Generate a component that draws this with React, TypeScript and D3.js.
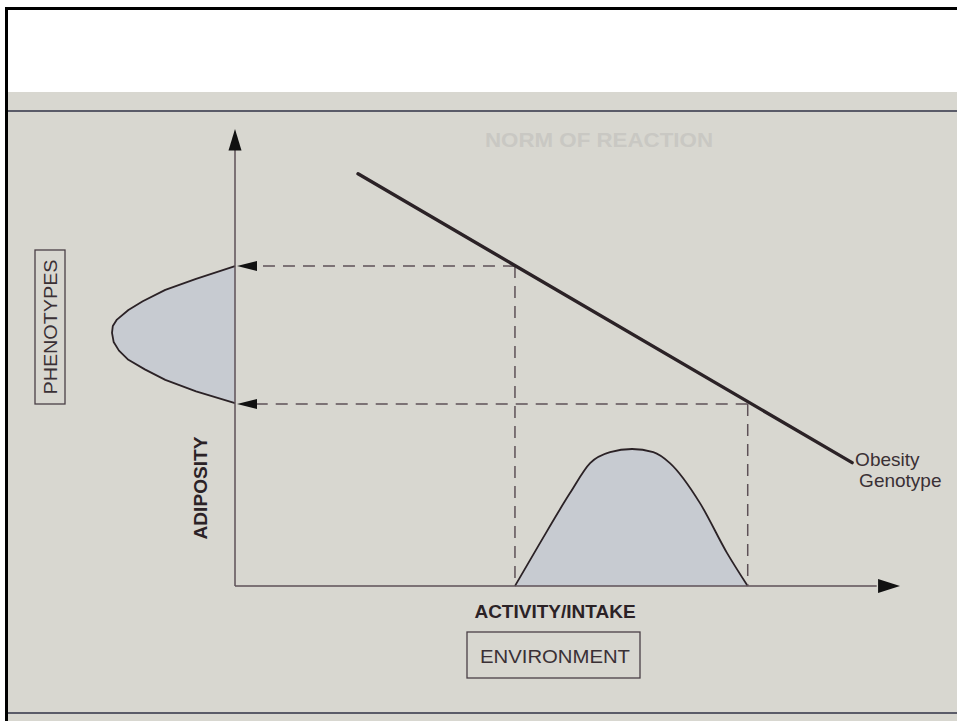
import React from "react";
import * as d3 from "d3";

// Environment (x) and adiposity (y) in arbitrary units 0-100
const genotypeLine = [
  { env: 18.5, adip: 90.2 },
  { env: 92.8, adip: 27.0 },
];
const envLevels = [42.1, 77.1]; // environment range (dashed verticals)
const phenoLevels = [70.0, 39.8]; // phenotype range (dashed horizontals)

// Environment distribution (bottom curve)
const envDist = [
  { env: 42.1, dens: 0 },
  { env: 45.9, dens: 9.5 },
  { env: 50.4, dens: 20.4 },
  { env: 53.4, dens: 26.9 },
  { env: 56.4, dens: 29.3 },
  { env: 59.7, dens: 30.0 },
  { env: 62.9, dens: 29.3 },
  { env: 65.4, dens: 26.9 },
  { env: 69.9, dens: 18.2 },
  { env: 74.0, dens: 7.2 },
  { env: 77.1, dens: 0 },
];

// Phenotype distribution (left curve)
const phenoDist = [
  { adip: 70.0, dens: 0 },
  { adip: 67.2, dens: 9.5 },
  { adip: 64.8, dens: 17.0 },
  { adip: 62.3, dens: 22.5 },
  { adip: 60.4, dens: 26.0 },
  { adip: 58.3, dens: 28.8 },
  { adip: 56.9, dens: 29.8 },
  { adip: 55.4, dens: 30.0 },
  { adip: 53.4, dens: 29.6 },
  { adip: 51.5, dens: 28.3 },
  { adip: 49.5, dens: 26.0 },
  { adip: 47.4, dens: 22.0 },
  { adip: 45.1, dens: 17.0 },
  { adip: 42.6, dens: 9.5 },
  { adip: 40.0, dens: 0 },
];

const title = "NORM OF REACTION";
const xTitle = "ACTIVITY/INTAKE";
const xBox = "ENVIRONMENT";
const yTitle = "ADIPOSITY";
const yBox = "PHENOTYPES";
const lineLabel = ["Obesity", "Genotype"];

export default function App() {
  const W = 957,
    H = 721;
  const x0 = 235,
    y0 = 586;
  const x = d3.scaleLinear().domain([0, 100]).range([x0, 900]);
  const y = d3.scaleLinear().domain([0, 100]).range([y0, 129]);
  const densY = d3.scaleLinear().domain([0, 30]).range([y0, y0 - 137]);
  const densX = d3.scaleLinear().domain([0, 30]).range([x0, 112]);

  const font = "'Liberation Sans', Arial, Helvetica, sans-serif";
  const ink = "#2b2226";
  const axisCol = "#5e5157";
  const fill = "#c7cbd1";
  const dash = "12,8";

  const envArea = d3
    .line<{ env: number; dens: number }>()
    .x((d) => x(d.env))
    .y((d) => densY(d.dens))
    .curve(d3.curveMonotoneX);
  const phenoArea = d3
    .line<{ adip: number; dens: number }>()
    .x((d) => densX(d.dens))
    .y((d) => y(d.adip))
    .curve(d3.curveLinear);

  const envPath = envArea(envDist) || "";
  const phenoPath = phenoArea(phenoDist) || "";

  const [p1, p2] = genotypeLine;

  return (
    <svg
      width={W}
      height={H}
      style={{ position: "absolute", left: 0, top: 0, background: "#fff" }}
    >
      {/* slide background */}
      <rect x={8} y={92} width={W - 8} height={H - 92} fill="#d8d7d0" />
      {/* frame */}
      <rect x={5} y={7} width={W - 5} height={3} fill="#000" />
      <rect x={5} y={7} width={3} height={H - 7} fill="#000" />
      {/* slide rules */}
      <line x1={8} x2={W} y1={111} y2={111} stroke="#5a5b68" strokeWidth={2} />
      <line x1={8} x2={W} y1={713} y2={713} stroke="#5a5b68" strokeWidth={2} />

      {/* title (faint) */}
      <text
        x={599}
        y={147}
        textAnchor="middle"
        fontFamily={font}
        fontWeight="bold"
        fontSize={21}
        fill="#c9c8c3"
        textLength={228}
        lengthAdjust="spacingAndGlyphs"
      >
        {title}
      </text>

      {/* distributions */}
      <path d={envPath + "Z"} fill={fill} stroke="none" />
      <path d={envPath} fill="none" stroke={ink} strokeWidth={1.8} />
      <path d={phenoPath + "Z"} fill={fill} stroke="none" />
      <path d={phenoPath} fill="none" stroke={ink} strokeWidth={1.8} strokeLinejoin="round" />

      {/* axes */}
      <line x1={x0} x2={x0} y1={y0} y2={y(95.5)} stroke={axisCol} strokeWidth={1.5} />
      <path
        d={`M${x0},${y(100)} L${x0 - 6.5},${y(95.3)} L${x0 + 6.5},${y(95.3)} Z`}
        fill="#111"
      />
      <line x1={x0} x2={x(96.5)} y1={y0} y2={y0} stroke={axisCol} strokeWidth={1.5} />
      <path
        d={`M${x(100)},${y0} L${x(96.7)},${y0 - 7} L${x(96.7)},${y0 + 7} Z`}
        fill="#111"
      />

      {/* dashed guides */}
      {phenoLevels.map((lv, i) => (
        <g key={"h" + i}>
          <line
            x1={x(envLevels[i])}
            x2={x0 + 20}
            y1={y(lv)}
            y2={y(lv)}
            stroke={axisCol}
            strokeWidth={1.5}
            strokeDasharray={dash}
          />
          <path
            d={`M${x0 + 2},${y(lv)} L${x0 + 22},${y(lv) - 5} L${x0 + 22},${y(lv) + 5} Z`}
            fill="#111"
          />
          <line
            x1={x(envLevels[i])}
            x2={x(envLevels[i])}
            y1={y(lv)}
            y2={y0}
            stroke={axisCol}
            strokeWidth={1.5}
            strokeDasharray={dash}
          />
        </g>
      ))}

      {/* genotype line */}
      <line
        x1={x(p1.env)}
        y1={y(p1.adip)}
        x2={x(p2.env)}
        y2={y(p2.adip)}
        stroke={ink}
        strokeWidth={3.4}
        strokeLinecap="round"
      />
      <text fontFamily={font} fontSize={19} fill="#3a3035">
        <tspan x={x(p2.env) + 3} y={466}>
          {lineLabel[0]}
        </tspan>
        <tspan x={x(p2.env) + 7} y={487}>
          {lineLabel[1]}
        </tspan>
      </text>

      {/* x titles */}
      <text
        x={555}
        y={618}
        textAnchor="middle"
        fontFamily={font}
        fontWeight="bold"
        fontSize={19}
        fill="#2b2226"
      >
        {xTitle}
      </text>
      <rect x={467} y={632} width={173} height={46} fill="none" stroke="#4a3f45" strokeWidth={1.3} />
      <text
        x={555}
        y={663}
        textAnchor="middle"
        fontFamily={font}
        fontSize={18}
        fill="#3a3035"
        textLength={150}
        lengthAdjust="spacingAndGlyphs"
      >
        {xBox}
      </text>

      {/* y titles */}
      <text
        transform="translate(207,488) rotate(-90)"
        textAnchor="middle"
        fontFamily={font}
        fontWeight="bold"
        fontSize={19}
        fill="#2b2226"
        textLength={103}
        lengthAdjust="spacingAndGlyphs"
      >
        {yTitle}
      </text>
      <rect x={35} y={250} width={30} height={154} fill="none" stroke="#4a3f45" strokeWidth={1.3} />
      <text
        transform="translate(57,327) rotate(-90)"
        textAnchor="middle"
        fontFamily={font}
        fontSize={18}
        fill="#3a3035"
        textLength={135}
        lengthAdjust="spacingAndGlyphs"
      >
        {yBox}
      </text>
    </svg>
  );
}
